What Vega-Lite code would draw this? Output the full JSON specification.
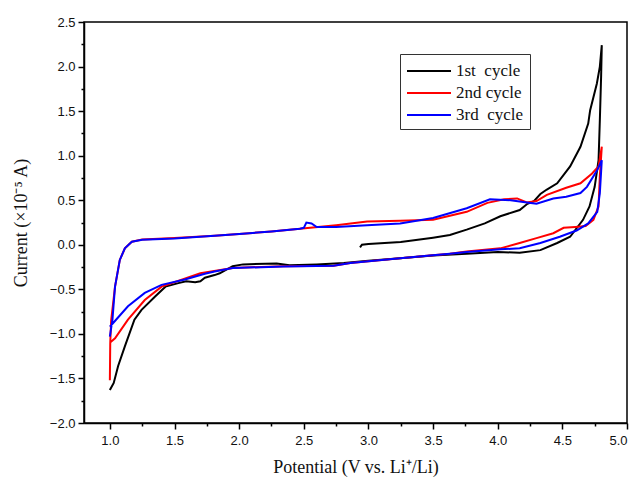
{
  "$schema": "https://vega.github.io/schema/vega-lite/v6.json",
  "width": 543,
  "height": 401,
  "autosize": {"type": "none"},
  "padding": {"left": 84, "top": 22, "right": 12, "bottom": 61},
  "background": "white",
  "config": {
    "view": {"stroke": "black", "strokeWidth": 1.5},
    "axis": {
      "domainColor": "black",
      "domainWidth": 1.5,
      "tickColor": "black",
      "tickWidth": 1.5,
      "grid": false,
      "labelFont": "Liberation Sans",
      "labelFontSize": 13,
      "labelColor": "#111",
      "titleFont": "Liberation Serif",
      "titleFontSize": 18,
      "titleFontWeight": "normal",
      "titleColor": "#111"
    }
  },
  "data": {
    "values": [
      {"cycle": "1st cycle", "i": 1, "v": 2.935, "c": -0.03},
      {"cycle": "1st cycle", "i": 2, "v": 2.95, "c": 0.0},
      {"cycle": "1st cycle", "i": 3, "v": 3.0, "c": 0.01},
      {"cycle": "1st cycle", "i": 4, "v": 3.25, "c": 0.03},
      {"cycle": "1st cycle", "i": 5, "v": 3.5, "c": 0.08},
      {"cycle": "1st cycle", "i": 6, "v": 3.63, "c": 0.11},
      {"cycle": "1st cycle", "i": 7, "v": 3.76, "c": 0.17},
      {"cycle": "1st cycle", "i": 8, "v": 3.9, "c": 0.24},
      {"cycle": "1st cycle", "i": 9, "v": 4.02, "c": 0.32},
      {"cycle": "1st cycle", "i": 10, "v": 4.17, "c": 0.39},
      {"cycle": "1st cycle", "i": 11, "v": 4.23, "c": 0.46},
      {"cycle": "1st cycle", "i": 12, "v": 4.28, "c": 0.49},
      {"cycle": "1st cycle", "i": 13, "v": 4.33, "c": 0.57},
      {"cycle": "1st cycle", "i": 14, "v": 4.38, "c": 0.62},
      {"cycle": "1st cycle", "i": 15, "v": 4.46, "c": 0.69},
      {"cycle": "1st cycle", "i": 16, "v": 4.56, "c": 0.88},
      {"cycle": "1st cycle", "i": 17, "v": 4.64, "c": 1.1},
      {"cycle": "1st cycle", "i": 18, "v": 4.7, "c": 1.36},
      {"cycle": "1st cycle", "i": 19, "v": 4.715, "c": 1.51},
      {"cycle": "1st cycle", "i": 20, "v": 4.767, "c": 1.81},
      {"cycle": "1st cycle", "i": 21, "v": 4.79, "c": 2.0},
      {"cycle": "1st cycle", "i": 22, "v": 4.805, "c": 2.24},
      {"cycle": "1st cycle", "i": 23, "v": 4.8, "c": 1.9},
      {"cycle": "1st cycle", "i": 24, "v": 4.79, "c": 1.4},
      {"cycle": "1st cycle", "i": 25, "v": 4.78, "c": 0.95},
      {"cycle": "1st cycle", "i": 26, "v": 4.75, "c": 0.65},
      {"cycle": "1st cycle", "i": 27, "v": 4.71, "c": 0.43},
      {"cycle": "1st cycle", "i": 28, "v": 4.66, "c": 0.28},
      {"cycle": "1st cycle", "i": 29, "v": 4.56, "c": 0.09},
      {"cycle": "1st cycle", "i": 30, "v": 4.46, "c": 0.02},
      {"cycle": "1st cycle", "i": 31, "v": 4.33, "c": -0.06},
      {"cycle": "1st cycle", "i": 32, "v": 4.17, "c": -0.09},
      {"cycle": "1st cycle", "i": 33, "v": 4.0, "c": -0.08},
      {"cycle": "1st cycle", "i": 34, "v": 3.76, "c": -0.1},
      {"cycle": "1st cycle", "i": 35, "v": 3.5, "c": -0.12},
      {"cycle": "1st cycle", "i": 36, "v": 3.245, "c": -0.15},
      {"cycle": "1st cycle", "i": 37, "v": 3.0, "c": -0.18},
      {"cycle": "1st cycle", "i": 38, "v": 2.81, "c": -0.205},
      {"cycle": "1st cycle", "i": 39, "v": 2.6, "c": -0.22},
      {"cycle": "1st cycle", "i": 40, "v": 2.39, "c": -0.23},
      {"cycle": "1st cycle", "i": 41, "v": 2.29, "c": -0.21},
      {"cycle": "1st cycle", "i": 42, "v": 2.03, "c": -0.22},
      {"cycle": "1st cycle", "i": 43, "v": 1.95, "c": -0.24},
      {"cycle": "1st cycle", "i": 44, "v": 1.85, "c": -0.32},
      {"cycle": "1st cycle", "i": 45, "v": 1.81, "c": -0.34},
      {"cycle": "1st cycle", "i": 46, "v": 1.735, "c": -0.37},
      {"cycle": "1st cycle", "i": 47, "v": 1.7, "c": -0.41},
      {"cycle": "1st cycle", "i": 48, "v": 1.66, "c": -0.42},
      {"cycle": "1st cycle", "i": 49, "v": 1.59, "c": -0.41},
      {"cycle": "1st cycle", "i": 50, "v": 1.53, "c": -0.43},
      {"cycle": "1st cycle", "i": 51, "v": 1.43, "c": -0.47},
      {"cycle": "1st cycle", "i": 52, "v": 1.35, "c": -0.58},
      {"cycle": "1st cycle", "i": 53, "v": 1.245, "c": -0.73},
      {"cycle": "1st cycle", "i": 54, "v": 1.19, "c": -0.84},
      {"cycle": "1st cycle", "i": 55, "v": 1.116, "c": -1.14},
      {"cycle": "1st cycle", "i": 56, "v": 1.064, "c": -1.36},
      {"cycle": "1st cycle", "i": 57, "v": 1.03, "c": -1.55},
      {"cycle": "1st cycle", "i": 58, "v": 1.0, "c": -1.63},

      {"cycle": "2nd cycle", "i": 1, "v": 1.0, "c": -1.52},
      {"cycle": "2nd cycle", "i": 2, "v": 1.003, "c": -1.1},
      {"cycle": "2nd cycle", "i": 3, "v": 1.01, "c": -0.85},
      {"cycle": "2nd cycle", "i": 4, "v": 1.04, "c": -0.47},
      {"cycle": "2nd cycle", "i": 5, "v": 1.077, "c": -0.17},
      {"cycle": "2nd cycle", "i": 6, "v": 1.116, "c": -0.04},
      {"cycle": "2nd cycle", "i": 7, "v": 1.17, "c": 0.035},
      {"cycle": "2nd cycle", "i": 8, "v": 1.25, "c": 0.06},
      {"cycle": "2nd cycle", "i": 9, "v": 1.5, "c": 0.075},
      {"cycle": "2nd cycle", "i": 10, "v": 1.81, "c": 0.1},
      {"cycle": "2nd cycle", "i": 11, "v": 2.0, "c": 0.12},
      {"cycle": "2nd cycle", "i": 12, "v": 2.25, "c": 0.15},
      {"cycle": "2nd cycle", "i": 13, "v": 2.47, "c": 0.18},
      {"cycle": "2nd cycle", "i": 14, "v": 2.75, "c": 0.22},
      {"cycle": "2nd cycle", "i": 15, "v": 2.99, "c": 0.26},
      {"cycle": "2nd cycle", "i": 16, "v": 3.245, "c": 0.27},
      {"cycle": "2nd cycle", "i": 17, "v": 3.5, "c": 0.28},
      {"cycle": "2nd cycle", "i": 18, "v": 3.76, "c": 0.37},
      {"cycle": "2nd cycle", "i": 19, "v": 3.92, "c": 0.47},
      {"cycle": "2nd cycle", "i": 20, "v": 4.05, "c": 0.51},
      {"cycle": "2nd cycle", "i": 21, "v": 4.15, "c": 0.52},
      {"cycle": "2nd cycle", "i": 22, "v": 4.225, "c": 0.475},
      {"cycle": "2nd cycle", "i": 23, "v": 4.3, "c": 0.49},
      {"cycle": "2nd cycle", "i": 24, "v": 4.38, "c": 0.56},
      {"cycle": "2nd cycle", "i": 25, "v": 4.53, "c": 0.64},
      {"cycle": "2nd cycle", "i": 26, "v": 4.64, "c": 0.69},
      {"cycle": "2nd cycle", "i": 27, "v": 4.73, "c": 0.8},
      {"cycle": "2nd cycle", "i": 28, "v": 4.78, "c": 0.88},
      {"cycle": "2nd cycle", "i": 29, "v": 4.805, "c": 1.1},
      {"cycle": "2nd cycle", "i": 30, "v": 4.79, "c": 0.77},
      {"cycle": "2nd cycle", "i": 31, "v": 4.78, "c": 0.43},
      {"cycle": "2nd cycle", "i": 32, "v": 4.74, "c": 0.28},
      {"cycle": "2nd cycle", "i": 33, "v": 4.68, "c": 0.21},
      {"cycle": "2nd cycle", "i": 34, "v": 4.6, "c": 0.2},
      {"cycle": "2nd cycle", "i": 35, "v": 4.51, "c": 0.19},
      {"cycle": "2nd cycle", "i": 36, "v": 4.43, "c": 0.13},
      {"cycle": "2nd cycle", "i": 37, "v": 4.3, "c": 0.075},
      {"cycle": "2nd cycle", "i": 38, "v": 4.17, "c": 0.02},
      {"cycle": "2nd cycle", "i": 39, "v": 4.02, "c": -0.04},
      {"cycle": "2nd cycle", "i": 40, "v": 3.76, "c": -0.075},
      {"cycle": "2nd cycle", "i": 41, "v": 3.63, "c": -0.1},
      {"cycle": "2nd cycle", "i": 42, "v": 3.245, "c": -0.15},
      {"cycle": "2nd cycle", "i": 43, "v": 2.86, "c": -0.205},
      {"cycle": "2nd cycle", "i": 44, "v": 2.73, "c": -0.235},
      {"cycle": "2nd cycle", "i": 45, "v": 2.34, "c": -0.24},
      {"cycle": "2nd cycle", "i": 46, "v": 1.95, "c": -0.26},
      {"cycle": "2nd cycle", "i": 47, "v": 1.7, "c": -0.32},
      {"cycle": "2nd cycle", "i": 48, "v": 1.4, "c": -0.47},
      {"cycle": "2nd cycle", "i": 49, "v": 1.27, "c": -0.62},
      {"cycle": "2nd cycle", "i": 50, "v": 1.14, "c": -0.84},
      {"cycle": "2nd cycle", "i": 51, "v": 1.04, "c": -1.05},
      {"cycle": "2nd cycle", "i": 52, "v": 1.0, "c": -1.1},

      {"cycle": "3rd cycle", "i": 1, "v": 1.0, "c": -1.03},
      {"cycle": "3rd cycle", "i": 2, "v": 1.02, "c": -0.84},
      {"cycle": "3rd cycle", "i": 3, "v": 1.04, "c": -0.47},
      {"cycle": "3rd cycle", "i": 4, "v": 1.077, "c": -0.17},
      {"cycle": "3rd cycle", "i": 5, "v": 1.116, "c": -0.04},
      {"cycle": "3rd cycle", "i": 6, "v": 1.17, "c": 0.035},
      {"cycle": "3rd cycle", "i": 7, "v": 1.25, "c": 0.056},
      {"cycle": "3rd cycle", "i": 8, "v": 1.5, "c": 0.07},
      {"cycle": "3rd cycle", "i": 9, "v": 1.81, "c": 0.1},
      {"cycle": "3rd cycle", "i": 10, "v": 2.0, "c": 0.12},
      {"cycle": "3rd cycle", "i": 11, "v": 2.25, "c": 0.15},
      {"cycle": "3rd cycle", "i": 12, "v": 2.47, "c": 0.18},
      {"cycle": "3rd cycle", "i": 13, "v": 2.5, "c": 0.19},
      {"cycle": "3rd cycle", "i": 14, "v": 2.52, "c": 0.25},
      {"cycle": "3rd cycle", "i": 15, "v": 2.56, "c": 0.24},
      {"cycle": "3rd cycle", "i": 16, "v": 2.6, "c": 0.2},
      {"cycle": "3rd cycle", "i": 17, "v": 2.75, "c": 0.2},
      {"cycle": "3rd cycle", "i": 18, "v": 2.99, "c": 0.22},
      {"cycle": "3rd cycle", "i": 19, "v": 3.245, "c": 0.24},
      {"cycle": "3rd cycle", "i": 20, "v": 3.5, "c": 0.3},
      {"cycle": "3rd cycle", "i": 21, "v": 3.76, "c": 0.41},
      {"cycle": "3rd cycle", "i": 22, "v": 3.94, "c": 0.51},
      {"cycle": "3rd cycle", "i": 23, "v": 4.1, "c": 0.5},
      {"cycle": "3rd cycle", "i": 24, "v": 4.225, "c": 0.475},
      {"cycle": "3rd cycle", "i": 25, "v": 4.3, "c": 0.46},
      {"cycle": "3rd cycle", "i": 26, "v": 4.43, "c": 0.52},
      {"cycle": "3rd cycle", "i": 27, "v": 4.53, "c": 0.54},
      {"cycle": "3rd cycle", "i": 28, "v": 4.64, "c": 0.58},
      {"cycle": "3rd cycle", "i": 29, "v": 4.69, "c": 0.65},
      {"cycle": "3rd cycle", "i": 30, "v": 4.77, "c": 0.84},
      {"cycle": "3rd cycle", "i": 31, "v": 4.805, "c": 0.95},
      {"cycle": "3rd cycle", "i": 32, "v": 4.79, "c": 0.58},
      {"cycle": "3rd cycle", "i": 33, "v": 4.77, "c": 0.37},
      {"cycle": "3rd cycle", "i": 34, "v": 4.7, "c": 0.24},
      {"cycle": "3rd cycle", "i": 35, "v": 4.61, "c": 0.16},
      {"cycle": "3rd cycle", "i": 36, "v": 4.48, "c": 0.09},
      {"cycle": "3rd cycle", "i": 37, "v": 4.33, "c": 0.02},
      {"cycle": "3rd cycle", "i": 38, "v": 4.17, "c": -0.04},
      {"cycle": "3rd cycle", "i": 39, "v": 4.02, "c": -0.05},
      {"cycle": "3rd cycle", "i": 40, "v": 3.76, "c": -0.08},
      {"cycle": "3rd cycle", "i": 41, "v": 3.63, "c": -0.1},
      {"cycle": "3rd cycle", "i": 42, "v": 3.245, "c": -0.15},
      {"cycle": "3rd cycle", "i": 43, "v": 2.86, "c": -0.205},
      {"cycle": "3rd cycle", "i": 44, "v": 2.73, "c": -0.235},
      {"cycle": "3rd cycle", "i": 45, "v": 2.34, "c": -0.245},
      {"cycle": "3rd cycle", "i": 46, "v": 1.95, "c": -0.26},
      {"cycle": "3rd cycle", "i": 47, "v": 1.81, "c": -0.3},
      {"cycle": "3rd cycle", "i": 48, "v": 1.735, "c": -0.325},
      {"cycle": "3rd cycle", "i": 49, "v": 1.58, "c": -0.39},
      {"cycle": "3rd cycle", "i": 50, "v": 1.4, "c": -0.45},
      {"cycle": "3rd cycle", "i": 51, "v": 1.27, "c": -0.54},
      {"cycle": "3rd cycle", "i": 52, "v": 1.14, "c": -0.69},
      {"cycle": "3rd cycle", "i": 53, "v": 1.0, "c": -0.92}
    ]
  },
  "resolve": {"axis": {"x": "independent", "y": "independent"}},
  "layer": [
    {
      "mark": {"type": "line", "strokeWidth": 2, "strokeOpacity": 0},
      "encoding": {
        "x": {
          "field": "v", "type": "quantitative",
          "scale": {"domain": [0.8, 5.0], "nice": false, "zero": false},
          "axis": {"orient": "bottom", "values": [1.25, 1.75, 2.25, 2.75, 3.25, 3.75, 4.25, 4.75], "labels": false, "tickSize": 3, "domain": false, "title": null}
        },
        "y": {
          "field": "c", "type": "quantitative",
          "scale": {"domain": [-2.0, 2.5], "nice": false, "zero": false},
          "axis": {"orient": "left", "values": [-1.75, -1.25, -0.75, -0.25, 0.25, 0.75, 1.25, 1.75, 2.25], "labels": false, "tickSize": 3, "domain": false, "title": null}
        },
        "order": {"field": "i", "type": "quantitative"},
        "detail": {"field": "cycle", "type": "nominal"}
      }
    },
    {
      "mark": {"type": "line", "strokeWidth": 2},
      "encoding": {
        "x": {
          "field": "v", "type": "quantitative",
          "scale": {"domain": [0.8, 5.0], "nice": false, "zero": false},
          "axis": {"orient": "bottom", "values": [1.0, 1.5, 2.0, 2.5, 3.0, 3.5, 4.0, 4.5, 5.0], "format": ".1f", "tickSize": 6, "labelPadding": 5, "title": "Potential (V vs. Li⁺/Li)", "titlePadding": 11}
        },
        "y": {
          "field": "c", "type": "quantitative",
          "scale": {"domain": [-2.0, 2.5], "nice": false, "zero": false},
          "axis": {"orient": "left", "values": [-2.0, -1.5, -1.0, -0.5, 0.0, 0.5, 1.0, 1.5, 2.0, 2.5], "format": ".1f", "tickSize": 6, "labelPadding": 3, "title": "Current (×10⁻⁵ A)", "titlePadding": 19}
        },
        "order": {"field": "i", "type": "quantitative"},
        "color": {
          "field": "cycle", "type": "nominal",
          "scale": {"domain": ["1st cycle", "2nd cycle", "3rd cycle"], "range": ["#000000", "#ff0000", "#0000ff"]},
          "legend": {
            "title": null,
            "orient": "none",
            "legendX": 316,
            "legendY": 32,
            "symbolType": "M-1,0H3.4",
            "symbolSize": 400,
            "symbolStrokeWidth": 2,
            "symbolFillColor": "transparent",
            "labelFont": "Liberation Serif",
            "labelFontSize": 17,
            "labelColor": "#111",
            "labelExpr": "datum.label == '2nd cycle' ? datum.label : replace(datum.label, ' ', '\u00a0 ')",
            "strokeColor": "#333",
            "fillColor": "white",
            "padding": 6,
            "rowPadding": 3,
            "labelOffset": 28
          }
        }
      }
    }
  ]
}
